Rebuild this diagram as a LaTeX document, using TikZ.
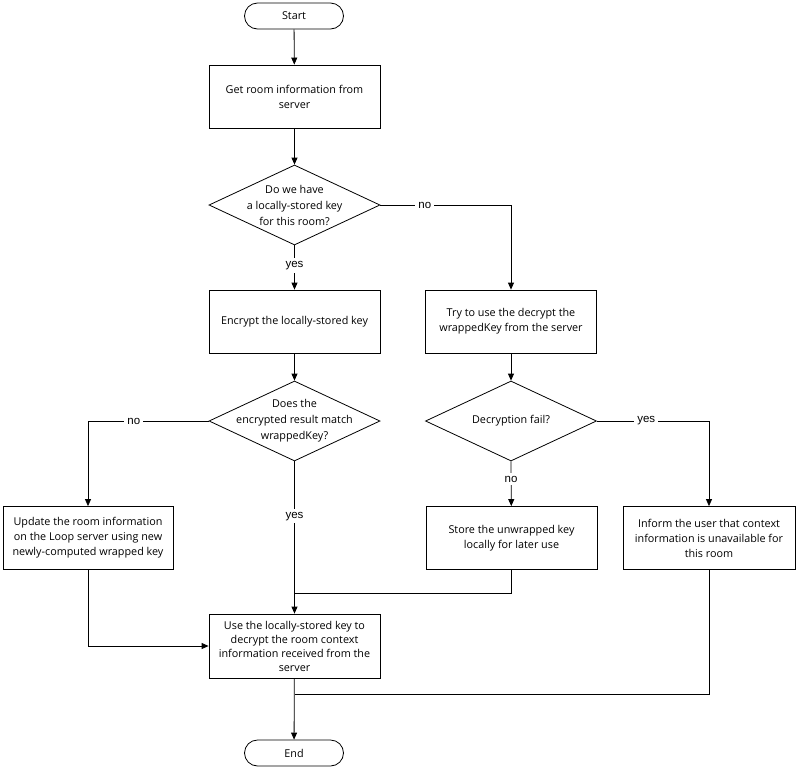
\documentclass[tikz,border=0pt]{standalone}
\usepackage{fontspec}
\setmainfont{Open Sans}
\newfontfamily\lblfont{Liberation Sans}
\usetikzlibrary{shapes.geometric,arrows.meta}

\begin{document}
\begin{tikzpicture}[x=1pt,y=-1pt,line width=0.8pt,
    terminal/.style={draw,rounded corners=13pt,minimum width=99pt,minimum height=26pt,font=\fontsize{10.8}{15}\selectfont},
    proc/.style={draw,align=center,minimum width=171pt,minimum height=63pt,inner sep=2pt,font=\fontsize{10.8}{15}\selectfont},
    decision/.style={draw,diamond,minimum width=171pt,minimum height=80pt,inner sep=0pt,
      label={[align=center,font=\fontsize{10.8}{16}\selectfont]center:#1}},
    lbl/.style={fill=white,inner sep=3pt,font=\lblfont\fontsize{11.5}{13}\selectfont},
    arr/.style={-{Triangle[length=7pt,width=6pt]}}]
    \useasboundingbox (0,0) rectangle (796,769);
    \node[terminal] (start) at (294,16) {Start};
    \node[proc] (get) at (294.5,96.5) {Get room information from\\server};
    \node[decision={Do we have\\a locally-stored key\\for this room?}] (q1) at (294.5,205) {};
    \node[proc] (enc) at (294.5,321.5) {Encrypt the locally-stored key};
    \node[proc] (try) at (511,321.5) {Try to use the decrypt the\\wrappedKey from the server};
    \node[decision={Does the\\encrypted result match\\wrappedKey?}] (q2) at (294.5,421) {};
    \node[decision={Decryption fail?}] (q3) at (511,421) {};
    \node[proc,minimum width=170pt] (upd) at (88,538) {Update the room information\\on the Loop server using new\\newly-computed wrapped key};
    \node[proc] (store) at (511.5,538) {Store the unwrapped key\\locally for later use};
    \node[proc,minimum width=172pt] (inform) at (709,538) {Inform the user that context\\information is unavailable for\\this room};
    \node[proc,minimum height=64pt,font=\fontsize{10.8}{14}\selectfont] (use) at (294.5,646) {Use the locally-stored key to\\decrypt the room context\\information received from the\\server};
    \node[terminal] (end) at (294,753) {End};
    \coordinate (j1) at (294.5,593);
    \coordinate (j2) at (294.5,694);

    \draw[arr] (start) -- (get);
    \draw[arr] (get) -- (q1);
    \draw[arr] (q1) -- (enc) node[lbl,pos=0.45] {yes};
    \draw[arr] (q1.east) -| (try) node[lbl,pos=0.17] {no};
    \draw[arr] (enc) -- (q2);
    \draw[arr] (try) -- (q3);
    \draw[arr] (q2.west) -| (upd) node[lbl,pos=0.31] {no};
    \draw[arr] (q2.south) -- (use) node[lbl,pos=0.36] {yes};
    \draw[arr] (q3.south) -- (store) node[lbl,pos=0.4] {no};
    \draw[arr] (q3.east) -| (inform) node[lbl,pos=0.22] {yes};
    \draw (store) |- (j1);
    \draw[arr] (upd) |- (use);
    \draw (inform) |- (j2);
    \draw[arr] (use) -- (end);
\end{tikzpicture}
\end{document}
